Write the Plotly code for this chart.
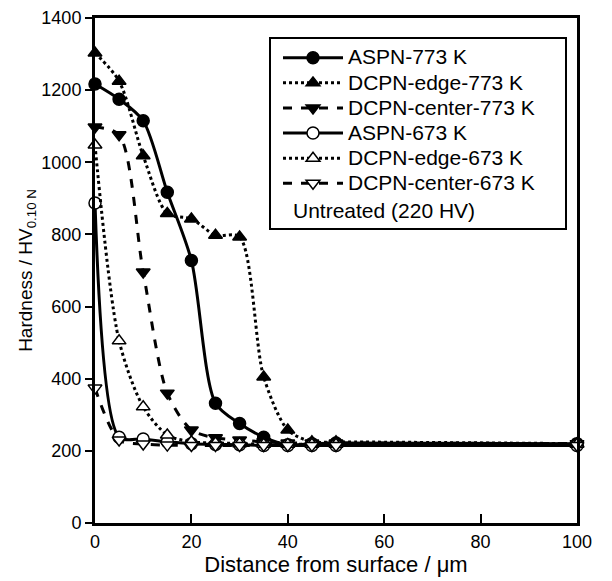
import plotly.graph_objects as go

# Hardness depth profiles
distance = [0, 5, 10, 15, 20, 25, 30, 35, 40, 45, 50, 100]
aspn_773 = [1217, 1175, 1115, 917, 728, 332, 276, 238, 217, 220, 222, 220]
dcpn_edge_773 = [1303, 1225, 1018, 858, 843, 798, 793, 405, 258, 225, 225, 220]
dcpn_center_773 = [1098, 1076, 696, 360, 258, 236, 230, 225, 222, 222, 222, 220]
aspn_673 = [887, 238, 233, 225, 220, 218, 217, 215, 215, 215, 215, 215]
dcpn_edge_673 = [1048, 505, 322, 244, 225, 222, 220, 218, 218, 218, 218, 218]
dcpn_center_673 = [374, 230, 219, 216, 215, 215, 215, 215, 215, 215, 215, 215]

FONT = "Liberation Sans, Arial, sans-serif"

series = [
    ("ASPN-773 K", aspn_773, "solid", "circle", "black"),
    ("DCPN-edge-773 K", dcpn_edge_773, "dot", "triangle-up", "black"),
    ("DCPN-center-773 K", dcpn_center_773, "dash", "triangle-down", "black"),
    ("ASPN-673 K", aspn_673, "solid", "circle", "white"),
    ("DCPN-edge-673 K", dcpn_edge_673, "dot", "triangle-up", "white"),
    ("DCPN-center-673 K", dcpn_center_673, "dash", "triangle-down", "white"),
]

fig = go.Figure()
for name, vals, dash, symbol, fill in series:
    fig.add_trace(go.Scatter(
        x=distance, y=vals, mode="lines+markers",
        # larger text than the legend font keeps the rows compact
        name='<span style="font-size:21px">%s</span>' % name,
        line=dict(color="black", width=3, dash=dash, shape="spline", smoothing=0.8),
        marker=dict(symbol=symbol, size=12, color=fill,
                    line=dict(color="black", width=1.5)),
        cliponaxis=False,
    ))

# page body adds 8 px on the left/top, so the figure is a bit smaller
fig.update_layout(
    width=604, height=573,
    margin=dict(l=87, r=35, t=10, b=58, autoexpand=False),
    plot_bgcolor="white", paper_bgcolor="white",
    font=dict(family=FONT, size=18, color="black"),
    showlegend=True,
    legend=dict(
        x=(278 - 95) / 482, y=0.956, xanchor="left", yanchor="top",
        bgcolor="rgba(0,0,0,0)", borderwidth=0,
        font=dict(size=17), itemwidth=60, tracegroupgap=0,
    ),
)

# legend frame and the extra text line
fig.add_shape(type="rect", xref="paper", yref="paper",
              x0=(270 - 95) / 482, x1=(566 - 95) / 482,
              y0=(523 - 229) / 505, y1=(523 - 38) / 505,
              line=dict(color="black", width=2))
fig.add_annotation(xref="paper", yref="paper",
                   x=(291 - 95) / 482, y=(523 - 210) / 505,
                   xanchor="left", yanchor="middle", showarrow=False,
                   text="Untreated (220 HV)", font=dict(size=21))

fig.update_xaxes(
    range=[0, 100], dtick=20, showgrid=False, zeroline=False,
    showline=True, linecolor="black", linewidth=3, mirror=True,
    ticks="inside", ticklen=9, tickwidth=2, tickcolor="black",
    automargin=False,
    title=dict(text="Distance from surface / μm", standoff=2),
)
fig.update_yaxes(
    range=[0, 1400], dtick=200, showgrid=False, zeroline=False,
    showline=True, linecolor="black", linewidth=3, mirror=True,
    ticks="outside", ticklen=7, tickwidth=2, tickcolor="black",
    automargin=False,
    title=dict(text="Hardness / HV<sub>0.10 N</sub>", standoff=4,
               font=dict(size=19)),
)

fig.write_html("out.html")
